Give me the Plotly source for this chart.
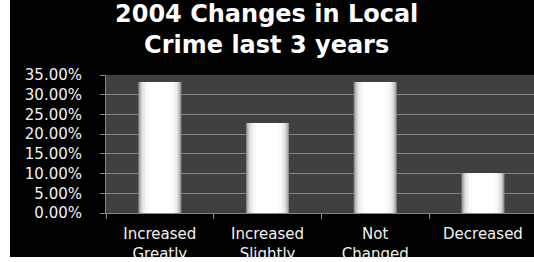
import plotly.graph_objects as go

categories = ["Increased<br>Greatly", "Increased<br>Slightly", "Not<br>Changed", "Decreased"]
values = [33.2, 22.8, 33.2, 10.1]
ytick_vals = [0, 5, 10, 15, 20, 25, 30, 35]
ytick_text = ["0.00%", "5.00%", "10.00%", "15.00%", "20.00%", "25.00%", "30.00%", "35.00%"]
title_text = "2004 Changes in Local<br>Crime last 3 years"

W, H = 534, 262
ml, mr, mt, mb = 106, 0, 75, 49
pw = W - ml - mr
ph = H - mt - mb

fig = go.Figure()
layers = [(0.40, "#8c8c8c"), (0.38, "#b4b4b4"), (0.355, "#d4d4d4"), (0.32, "#ececec"), (0.27, "#fafafa"), (0.2, "#ffffff")]
for w, c in layers:
    fig.add_trace(go.Bar(x=categories, y=values, width=w, marker=dict(color=c, line=dict(width=0)),
                         hoverinfo="skip", showlegend=False))

shapes = [
    # white strip on the left (x 0..10 px)
    dict(type="rect", xref="paper", yref="paper", x0=(0 - ml) / pw - 0.01, x1=(10 - ml) / pw,
         y0=-(mb + 2) / ph, y1=(ph + mt + 2) / ph, fillcolor="white", line=dict(width=0), layer="above"),
    # white strip at the bottom (y 257..262 px)
    dict(type="rect", xref="paper", yref="paper", x0=(0 - ml) / pw - 0.01, x1=1.01,
         y0=-(mb + 2) / ph, y1=-(mb - 5) / ph, fillcolor="white", line=dict(width=0), layer="above"),
]

fig.add_annotation(text="<b>" + title_text + "</b>", xref="paper", yref="paper",
                   x=(266 - ml) / pw, y=1 + (mt - 30) / ph, xanchor="center", yanchor="middle",
                   showarrow=False, font=dict(family="DejaVu Sans", size=24, color="white"))

fig.update_layout(
    width=W, height=H,
    margin=dict(l=ml, r=mr, t=mt, b=mb, autoexpand=False),
    paper_bgcolor="black",
    plot_bgcolor="#404040",
    barmode="overlay",
    shapes=shapes,
    xaxis=dict(range=[-0.5, 3.474], showgrid=False, showline=True, linecolor="#868686", linewidth=1,
               ticks="outside", tickson="boundaries", ticklen=5, tickcolor="#868686",
               tickfont=dict(family="DejaVu Sans", size=15, color="#f2f2f2"), ticklabelstandoff=7),
    yaxis=dict(range=[0, 35], tickvals=ytick_vals, ticktext=ytick_text, showgrid=True,
               gridcolor="#858585", gridwidth=1, showline=True, linecolor="#868686", linewidth=1,
               ticks="outside", ticklen=5, tickcolor="#868686", zeroline=False,
               tickfont=dict(family="DejaVu Sans", size=15, color="#f2f2f2"), ticklabelstandoff=15),
)

fig.write_html("out.html", config={"displayModeBar": False},
               post_script="document.body.style.margin='0';document.body.style.overflow='hidden';")
